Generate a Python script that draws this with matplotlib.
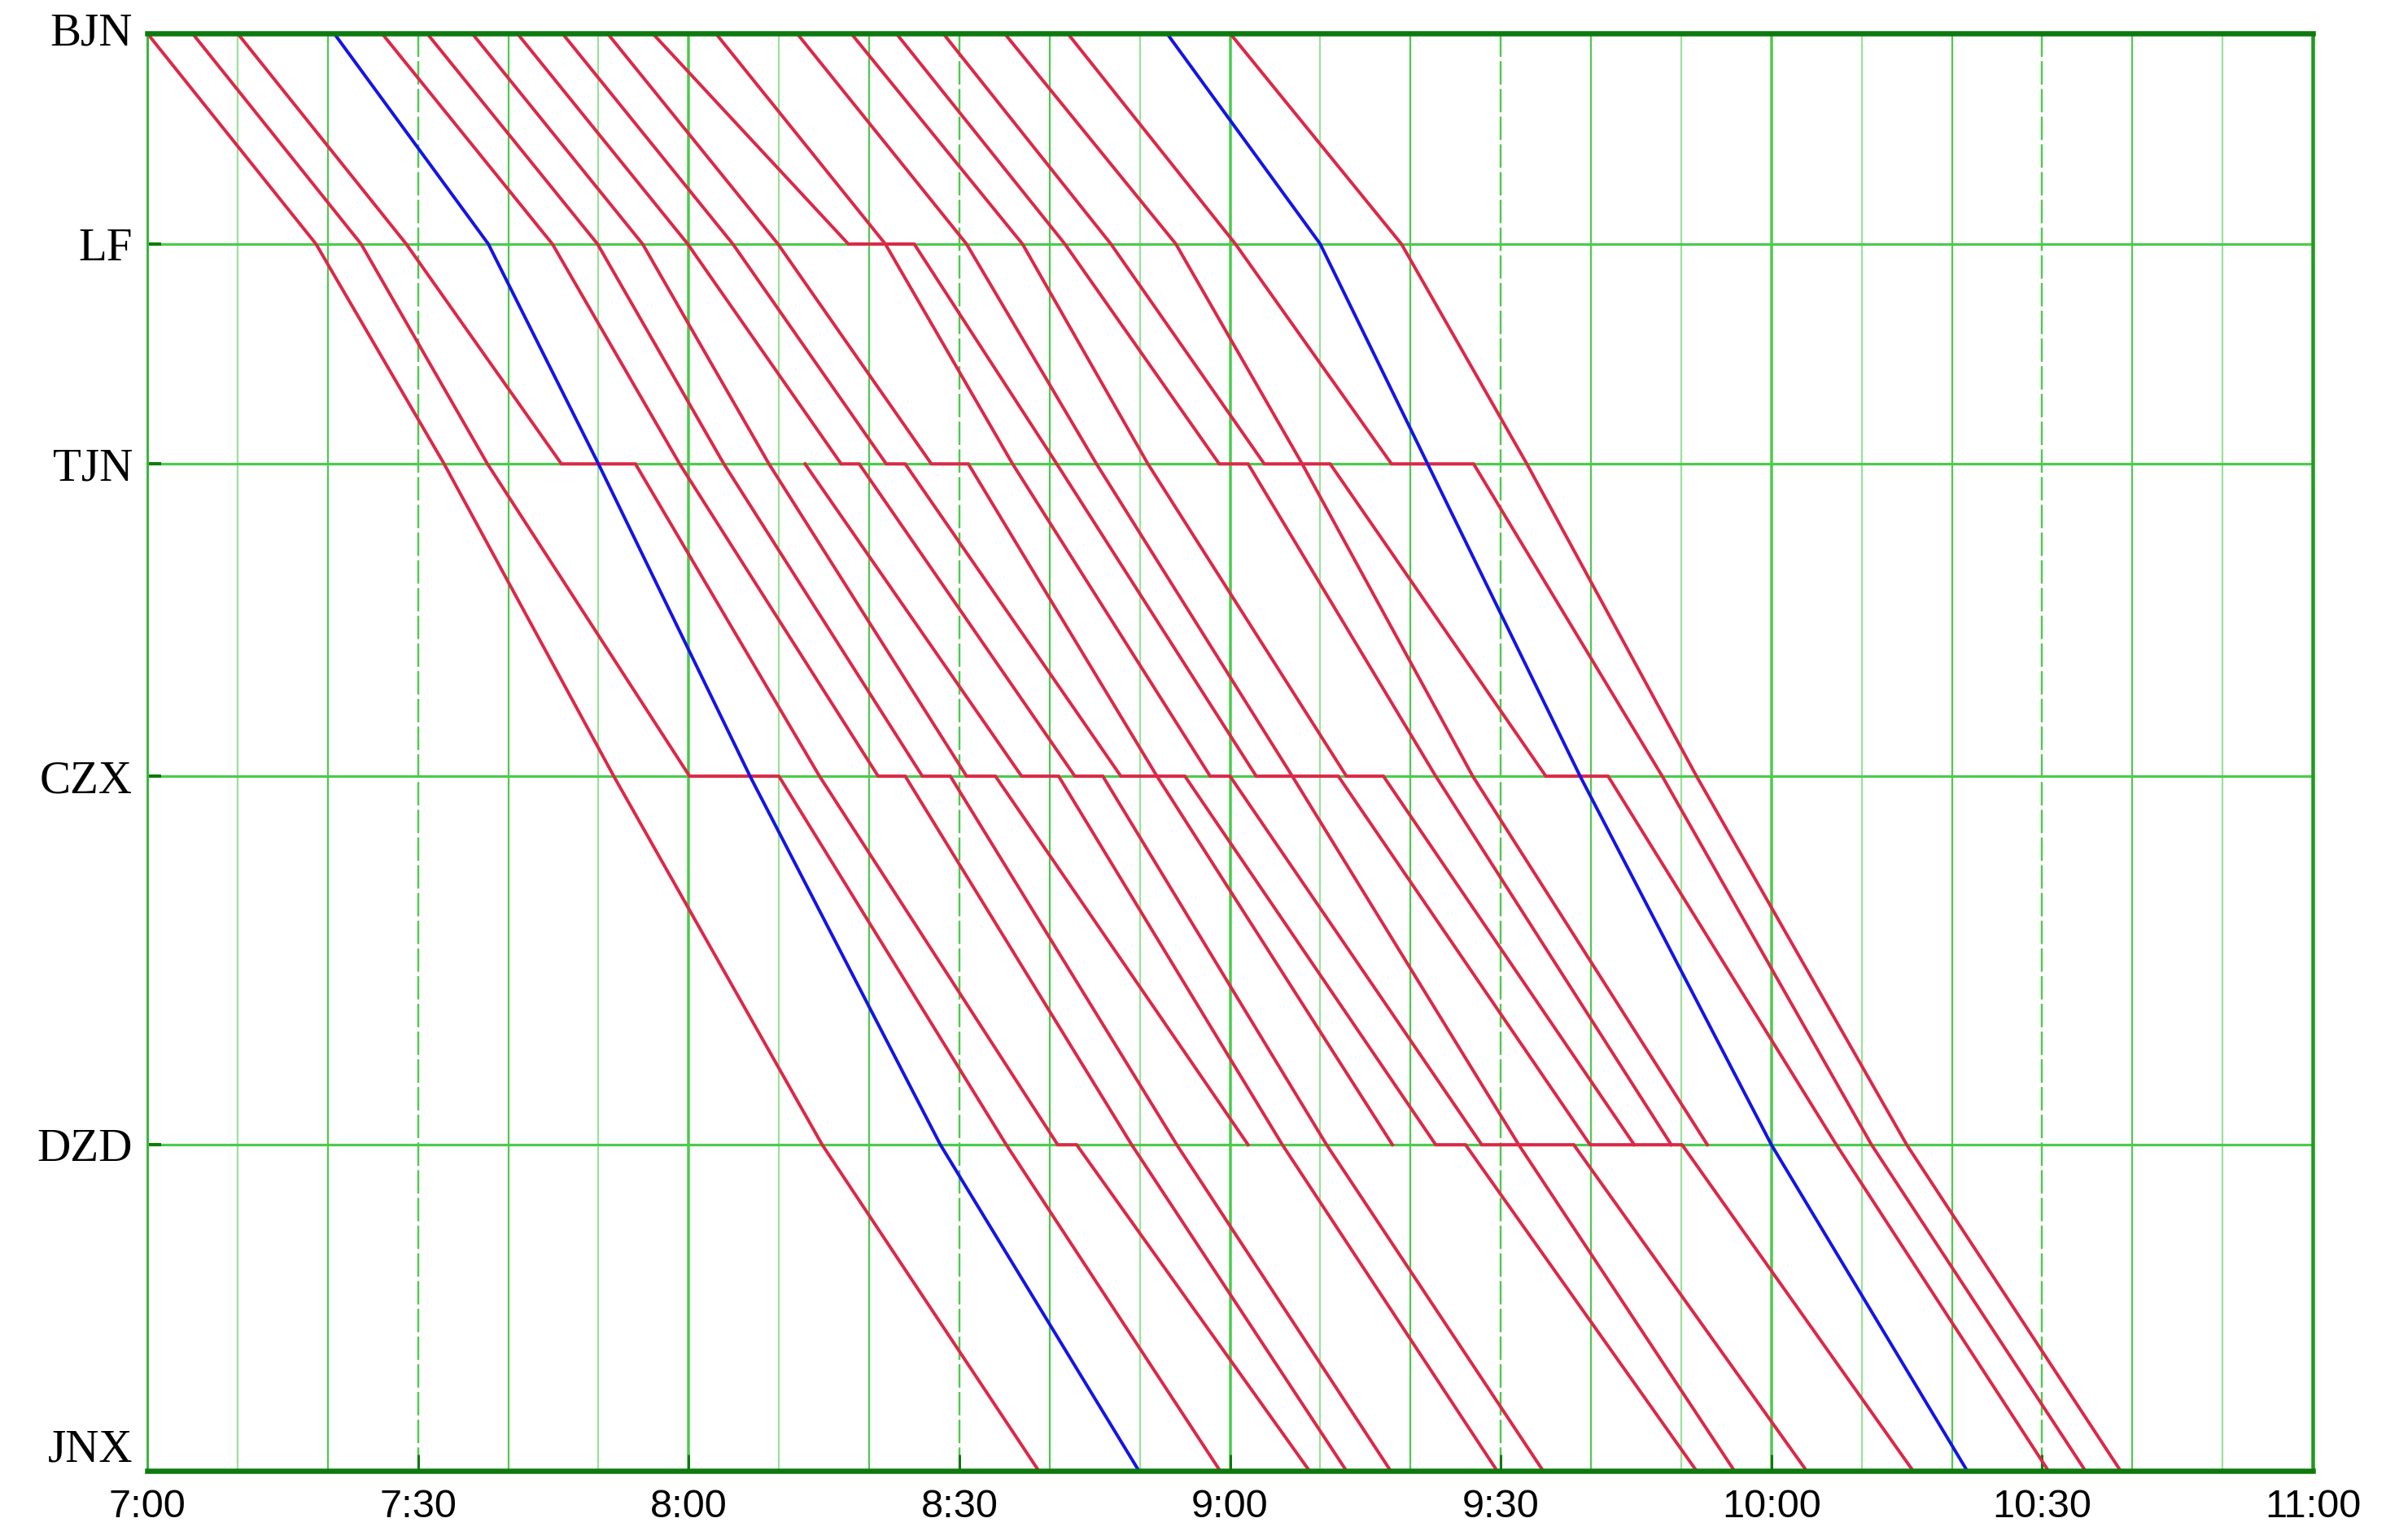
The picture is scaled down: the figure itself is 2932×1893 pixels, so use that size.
import matplotlib
matplotlib.use("Agg")
import matplotlib.pyplot as plt

# ---------------- data ----------------
stations = ["BJN", "LF", "TJN", "CZX", "DZD", "JNX"]
station_km = [0.0, 59.5, 121.6, 209.8, 313.9, 406.0]

# time axis: minutes after 7:00
tick_minutes = [0, 30, 60, 90, 120, 150, 180, 210, 240]
tick_labels = ["7:00", "7:30", "8:00", "8:30", "9:00", "9:30", "10:00", "10:30", "11:00"]

# each train: (station index, arrival, departure) in minutes after 7:00
T01 = [(0, 0.0, 0.0), (1, 18.7, 18.7), (2, 32.9, 32.9), (3, 51.7, 51.7), (4, 74.8, 74.8), (5, 98.8, 98.8)]
T02 = [(0, 5.0, 5.0), (1, 23.7, 23.7), (2, 37.7, 37.7), (3, 60.1, 70.0), (4, 95.2, 95.2), (5, 118.9, 118.9)]
T03 = [(0, 10.0, 10.0), (1, 28.7, 28.7), (2, 45.9, 54.1), (3, 74.5, 74.5), (4, 100.9, 103.0), (5, 128.8, 128.8)]
T04 = [(0, 26.0, 26.0), (1, 44.9, 44.9), (2, 59.0, 59.0), (3, 81.0, 84.0), (4, 109.1, 109.1), (5, 132.9, 132.9)]
T05 = [(0, 31.0, 31.0), (1, 49.9, 49.9), (2, 63.9, 63.9), (3, 85.9, 89.0), (4, 114.1, 114.1), (5, 137.8, 137.8)]
T06 = [(0, 36.0, 36.0), (1, 54.9, 54.9), (2, 68.9, 68.9), (3, 90.8, 94.0), (4, 122.0, 122.0)]
T07 = [(2, 72.9, 72.9), (3, 96.9, 101.0), (4, 125.8, 125.8), (5, 149.6, 149.6)]
T08 = [(0, 41.0, 41.0), (1, 59.9, 59.9), (2, 76.9, 78.9), (3, 102.8, 105.9), (4, 130.7, 130.7), (5, 154.7, 154.7)]
T09 = [(0, 46.0, 46.0), (1, 64.9, 64.9), (2, 81.9, 84.0), (3, 107.9, 115.0), (4, 142.8, 146.1), (5, 171.7, 171.7)]
T10 = [(0, 51.0, 51.0), (1, 69.9, 69.9), (2, 86.9, 91.0), (3, 111.9, 111.9), (4, 138.0, 138.0)]
T11 = [(0, 56.0, 56.0), (1, 77.7, 85.0), (2, 100.8, 100.8), (3, 122.9, 132.0), (4, 159.9, 170.1), (5, 195.7, 195.7)]
T12 = [(0, 63.0, 63.0), (1, 81.8, 81.8), (2, 95.9, 95.9), (3, 117.8, 120.0), (4, 147.9, 158.1), (5, 183.9, 183.9)]
T13 = [(0, 72.0, 72.0), (1, 90.8, 90.8), (2, 105.2, 105.2), (3, 126.9, 126.9), (4, 152.0, 152.0), (5, 175.9, 175.9)]
T14 = [(0, 78.0, 78.0), (1, 97.0, 97.0), (2, 110.9, 110.9), (3, 132.9, 137.0), (4, 164.8, 164.8)]
T15 = [(0, 83.0, 83.0), (1, 101.7, 101.7), (2, 118.8, 122.0), (3, 142.8, 142.8), (4, 168.9, 168.9)]
T16 = [(0, 88.2, 88.2), (1, 106.8, 106.8), (2, 123.8, 131.1), (3, 155.0, 161.9), (4, 187.2, 187.2), (5, 210.7, 210.7)]
T17 = [(0, 95.0, 95.0), (1, 114.0, 114.0), (2, 128.0, 128.0), (3, 146.9, 146.9), (4, 172.9, 172.9)]
T18 = [(0, 102.0, 102.0), (1, 120.6, 120.6), (2, 137.9, 147.0), (3, 167.9, 167.9), (4, 191.1, 191.1), (5, 214.8, 214.8)]
T19 = [(0, 120.0, 120.0), (1, 139.0, 139.0), (2, 152.9, 152.9), (3, 171.7, 171.7), (4, 195.0, 195.0), (5, 218.7, 218.7)]
B01 = [(0, 20.7, 20.7), (1, 37.8, 37.8), (2, 50.0, 50.0), (3, 66.8, 66.8), (4, 87.9, 87.9), (5, 109.9, 109.9)]
B02 = [(0, 113.0, 113.0), (1, 130.0, 130.0), (2, 141.9, 141.9), (3, 158.8, 158.8), (4, 180.0, 180.0), (5, 201.7, 201.7)]

red_trains = [T01, T02, T03, T04, T05, T06, T07, T08, T09, T10,
              T11, T12, T13, T14, T15, T16, T17, T18, T19]
blue_trains = [B01, B02]

# ---------------- styling ----------------
W, H, DPI = 2932, 1893, 100
RED = "#DC2848"
BLUE = "#1414E6"
GRID = "#4CCB4C"
GRID_LIGHT = "#98E298"
DARK = "#0E7A0E"

def px(p):
    return p * 72.0 / DPI

fig = plt.figure(figsize=(W / DPI, H / DPI), dpi=DPI)
ax = fig.add_axes([181 / W, 1 - 1808 / H, (2842 - 181) / W, (1808 - 41) / H])
ax.set_xlim(0, 240)
ax.set_ylim(station_km[-1], station_km[0])

# vertical grid every 10 minutes
for m in range(10, 240, 10):
    if m % 60 == 0:
        ax.axvline(m, color=GRID, lw=px(3.5), zorder=1)
    elif m % 30 == 0:
        ax.axvline(m, color=GRID, lw=px(2.4), ls=(0, (12, 2.2)), zorder=1)
    else:
        ax.axvline(m, color=GRID if (m // 10) % 2 == 0 else GRID_LIGHT, lw=px(2.2), zorder=1)

# station lines
for km in station_km[1:-1]:
    ax.axhline(km, color=GRID, lw=px(3.2), zorder=1)

def draw(train, color, lw):
    xs, ys = [], []
    for idx, arr, dep in train:
        xs += [arr, dep]
        ys += [station_km[idx], station_km[idx]]
    ax.plot(xs, ys, color=color, lw=lw, solid_joinstyle="miter", zorder=3)

for t in red_trains:
    draw(t, RED, px(4.0))
for t in blue_trains:
    draw(t, BLUE, px(4.0))

# spines
for side, col, w in [("top", DARK, 6.5), ("bottom", DARK, 6.5),
                     ("left", "#3BB83B", 3.0), ("right", "#1E9A1E", 4.5)]:
    ax.spines[side].set_color(col)
    ax.spines[side].set_linewidth(px(w))
    ax.spines[side].set_zorder(4)

# ticks
ax.set_xticks(tick_minutes)
ax.set_xticklabels(tick_labels, fontfamily="Liberation Sans", fontsize=35)
ax.set_yticks(station_km)
ax.set_yticklabels(stations, fontfamily="Liberation Serif", fontsize=41)
ax.tick_params(axis="x", direction="in", length=px(20), width=px(3), color=DARK, pad=px(22))
ax.tick_params(axis="y", direction="in", length=px(17), width=px(4), color=DARK, pad=px(18))
ylabels = ax.get_yticklabels()
ylabels[-1].set_verticalalignment("bottom")
ylabels[0].set_verticalalignment("center")

fig.savefig("out.png", dpi=DPI)
